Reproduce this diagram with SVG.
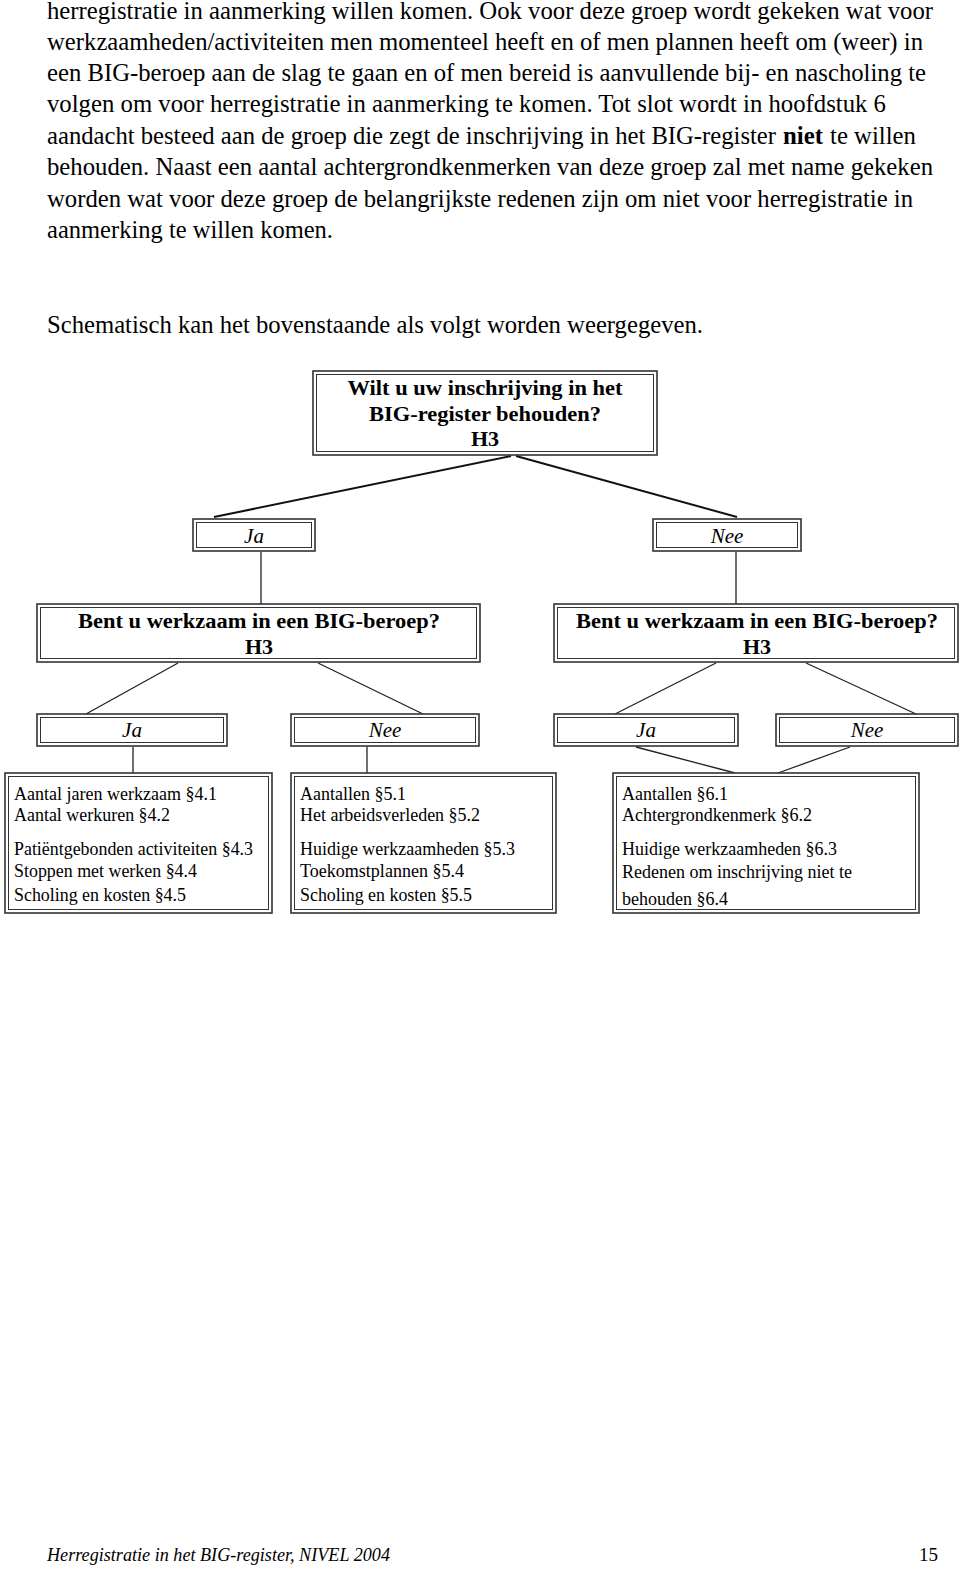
<svg xmlns="http://www.w3.org/2000/svg" width="960" height="1570" viewBox="0 0 960 1570">
<style>
.body{font-family:"Liberation Serif","Times New Roman",serif;font-size:25px;fill:#000}
.q{font-family:"Liberation Serif","Times New Roman",serif;font-size:22px;font-weight:bold;fill:#000;text-anchor:middle}
.a{font-family:"Liberation Serif","Times New Roman",serif;font-size:21px;font-style:italic;fill:#000;text-anchor:middle}
.t{font-family:"Liberation Serif","Times New Roman",serif;font-size:19px;fill:#000}
.foot{font-family:"Liberation Serif","Times New Roman",serif;font-size:19px;fill:#000}
.o{fill:#fff;stroke:#333;stroke-width:1.6}
.i{fill:none;stroke:#333;stroke-width:1}
.c{stroke:#111;stroke-width:2;fill:none}
.c1{stroke:#222;stroke-width:1.3;fill:none}
</style>
<rect width="960" height="1570" fill="#fff"/>
<g id="bodytext">
<text class="body" x="47" y="19" textLength="886" lengthAdjust="spacingAndGlyphs">herregistratie in aanmerking willen komen. Ook voor deze groep wordt gekeken wat voor</text>
<text class="body" x="47" y="50" textLength="876" lengthAdjust="spacingAndGlyphs">werkzaamheden/activiteiten men momenteel heeft en of men plannen heeft om (weer) in</text>
<text class="body" x="47" y="81" textLength="879" lengthAdjust="spacingAndGlyphs">een BIG-beroep aan de slag te gaan en of men bereid is aanvullende bij- en nascholing te</text>
<text class="body" x="47" y="112" textLength="839" lengthAdjust="spacingAndGlyphs">volgen om voor herregistratie in aanmerking te komen. Tot slot wordt in hoofdstuk 6</text>
<text class="body" x="47" y="144" textLength="729" lengthAdjust="spacingAndGlyphs">aandacht besteed aan de groep die zegt de inschrijving in het BIG-register</text>
<text class="body" x="783" y="144" font-weight="bold" textLength="40" lengthAdjust="spacingAndGlyphs">niet</text>
<text class="body" x="830" y="144" textLength="86" lengthAdjust="spacingAndGlyphs">te willen</text>
<text class="body" x="47" y="175" textLength="886" lengthAdjust="spacingAndGlyphs">behouden. Naast een aantal achtergrondkenmerken van deze groep zal met name gekeken</text>
<text class="body" x="47" y="207" textLength="866" lengthAdjust="spacingAndGlyphs">worden wat voor deze groep de belangrijkste redenen zijn om niet voor herregistratie in</text>
<text class="body" x="47" y="238" textLength="286" lengthAdjust="spacingAndGlyphs">aanmerking te willen komen.</text>
<text class="body" x="47" y="333" textLength="656" lengthAdjust="spacingAndGlyphs">Schematisch kan het bovenstaande als volgt worden weergegeven.</text>
</g>
<g id="connectors">
<line class="c" x1="511" y1="456" x2="214" y2="517"/>
<line class="c" x1="516" y1="456" x2="737" y2="517"/>
<line class="c1" x1="261" y1="552" x2="261" y2="604"/>
<line class="c1" x1="736" y1="552" x2="736" y2="604"/>
<line class="c1" x1="178" y1="663" x2="86" y2="714"/>
<line class="c1" x1="318" y1="663" x2="423" y2="714"/>
<line class="c1" x1="716" y1="663" x2="615" y2="714"/>
<line class="c1" x1="806" y1="663" x2="916" y2="714"/>
<line class="c1" x1="133" y1="747" x2="133" y2="773"/>
<line class="c1" x1="367" y1="747" x2="367" y2="773"/>
<line class="c1" x1="636" y1="747" x2="735" y2="773"/>
<line class="c1" x1="850" y1="747" x2="778" y2="773"/>
</g>
<g id="q1">
<rect class="o" x="313" y="371" width="344" height="84"/>
<rect class="i" x="316.5" y="374.5" width="337" height="77"/>
<text class="q" x="485" y="395" textLength="275" lengthAdjust="spacingAndGlyphs">Wilt u uw inschrijving in het</text>
<text class="q" x="485" y="421" textLength="232" lengthAdjust="spacingAndGlyphs">BIG-register behouden?</text>
<text class="q" x="485" y="446">H3</text>
</g>
<g id="ja1">
<rect class="o" x="193" y="519" width="122" height="32"/>
<rect class="i" x="196.5" y="522.5" width="115" height="25"/>
<text class="a" x="254" y="543">Ja</text>
</g>
<g id="nee1">
<rect class="o" x="653" y="519" width="148" height="32"/>
<rect class="i" x="656.5" y="522.5" width="141" height="25"/>
<text class="a" x="727" y="543">Nee</text>
</g>
<g id="q2">
<rect class="o" x="37" y="604" width="443" height="58"/>
<rect class="i" x="40.5" y="607.5" width="436" height="51"/>
<text class="q" x="259" y="628" textLength="362" lengthAdjust="spacingAndGlyphs">Bent u werkzaam in een BIG-beroep?</text>
<text class="q" x="259" y="654">H3</text>
</g>
<g id="q3">
<rect class="o" x="554" y="604" width="404" height="58"/>
<rect class="i" x="557.5" y="607.5" width="397" height="51"/>
<text class="q" x="757" y="628" textLength="362" lengthAdjust="spacingAndGlyphs">Bent u werkzaam in een BIG-beroep?</text>
<text class="q" x="757" y="654">H3</text>
</g>
<g id="ja2">
<rect class="o" x="37" y="714" width="190" height="32"/>
<rect class="i" x="40.5" y="717.5" width="183" height="25"/>
<text class="a" x="132" y="737">Ja</text>
</g>
<g id="nee2">
<rect class="o" x="291" y="714" width="188" height="32"/>
<rect class="i" x="294.5" y="717.5" width="181" height="25"/>
<text class="a" x="385" y="737">Nee</text>
</g>
<g id="ja3">
<rect class="o" x="554" y="714" width="184" height="32"/>
<rect class="i" x="557.5" y="717.5" width="177" height="25"/>
<text class="a" x="646" y="737">Ja</text>
</g>
<g id="nee3">
<rect class="o" x="776" y="714" width="182" height="32"/>
<rect class="i" x="779.5" y="717.5" width="175" height="25"/>
<text class="a" x="867" y="737">Nee</text>
</g>
<g id="h4">
<rect class="o" x="5" y="773" width="267" height="140"/>
<rect class="i" x="8.5" y="776.5" width="260" height="133"/>
<text class="t" x="14" y="800" textLength="203" lengthAdjust="spacingAndGlyphs">Aantal jaren werkzaam §4.1</text>
<text class="t" x="14" y="821" textLength="156" lengthAdjust="spacingAndGlyphs">Aantal werkuren §4.2</text>
<text class="t" x="14" y="855" textLength="239" lengthAdjust="spacingAndGlyphs">Patiëntgebonden activiteiten §4.3</text>
<text class="t" x="14" y="877" textLength="183" lengthAdjust="spacingAndGlyphs">Stoppen met werken §4.4</text>
<text class="t" x="14" y="901" textLength="172" lengthAdjust="spacingAndGlyphs">Scholing en kosten §4.5</text>
</g>
<g id="h5">
<rect class="o" x="291" y="773" width="265" height="140"/>
<rect class="i" x="294.5" y="776.5" width="258" height="133"/>
<text class="t" x="300" y="800" textLength="106" lengthAdjust="spacingAndGlyphs">Aantallen §5.1</text>
<text class="t" x="300" y="821" textLength="180" lengthAdjust="spacingAndGlyphs">Het arbeidsverleden §5.2</text>
<text class="t" x="300" y="855" textLength="215" lengthAdjust="spacingAndGlyphs">Huidige werkzaamheden §5.3</text>
<text class="t" x="300" y="877" textLength="164" lengthAdjust="spacingAndGlyphs">Toekomstplannen §5.4</text>
<text class="t" x="300" y="901" textLength="172" lengthAdjust="spacingAndGlyphs">Scholing en kosten §5.5</text>
</g>
<g id="h6">
<rect class="o" x="613" y="773" width="306" height="140"/>
<rect class="i" x="616.5" y="776.5" width="299" height="133"/>
<text class="t" x="622" y="800" textLength="106" lengthAdjust="spacingAndGlyphs">Aantallen §6.1</text>
<text class="t" x="622" y="821" textLength="190" lengthAdjust="spacingAndGlyphs">Achtergrondkenmerk §6.2</text>
<text class="t" x="622" y="855" textLength="215" lengthAdjust="spacingAndGlyphs">Huidige werkzaamheden §6.3</text>
<text class="t" x="622" y="878" textLength="230" lengthAdjust="spacingAndGlyphs">Redenen om inschrijving niet te</text>
<text class="t" x="622" y="905" textLength="106" lengthAdjust="spacingAndGlyphs">behouden §6.4</text>
</g>
<g id="footer">
<text class="foot" x="47" y="1561" font-style="italic" textLength="343" lengthAdjust="spacingAndGlyphs">Herregistratie in het BIG-register, NIVEL 2004</text>
<text class="foot" x="938" y="1561" text-anchor="end" font-size="21">15</text>
</g>
</svg>
